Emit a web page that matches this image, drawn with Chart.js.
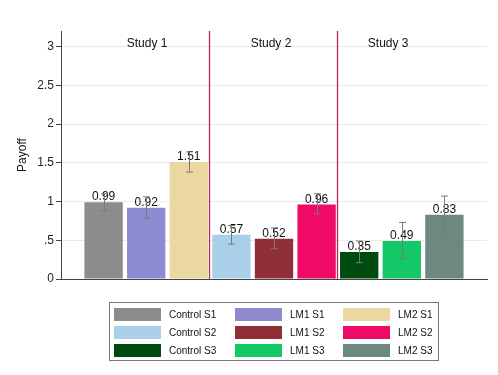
<!DOCTYPE html>
<html>
<head>
<meta charset="utf-8">
<script src="https://cdn.jsdelivr.net/npm/chart.js@4.4.0/dist/chart.umd.min.js"></script>
<style>
    body { margin: 0; background: #fff; }
    #wrap { width: 498px; height: 375px; position: relative; }
</style>
</head>
<body>
<div id="wrap"><canvas id="payoffChart"></canvas></div>
<script>
// data
const categories = ['Control S1', 'LM1 S1', 'LM2 S1', 'Control S2', 'LM1 S2', 'LM2 S2', 'Control S3', 'LM1 S3', 'LM2 S3'];
const barX = [1, 2, 3, 4, 5, 6, 7, 8, 9];
const means = [0.99, 0.92, 1.51, 0.57, 0.52, 0.96, 0.35, 0.49, 0.83];
const ciLow = [0.88, 0.78, 1.38, 0.45, 0.39, 0.84, 0.21, 0.26, 0.60];
const ciHigh = [1.10, 1.06, 1.64, 0.69, 0.66, 1.10, 0.49, 0.73, 1.07];
const barColors = ['#8c8c8c', '#8e8bd0', '#ebd7a0', '#a9d0e8', '#8f3036', '#ee0a66', '#004b10', '#14c868', '#6c8880'];

const yTickValues = [0, 0.5, 1, 1.5, 2, 2.5, 3];
const yTickLabels = ['0', '.5', '1', '1.5', '2', '2.5', '3'];

const studyLabels = ['Study 1', 'Study 2', 'Study 3'];
const studyLabelX = [2.02, 4.93, 7.68];
const dividerX = [3.47, 6.48];

const FONT = 'Liberation Sans, Arial, sans-serif';

// studies, value labels, error bars and the boxed legend
const extrasPlugin = {
    id: 'extras',
    afterDatasetsDraw(chart) {
        const ctx = chart.ctx;
        const xs = chart.scales.x;
        const ys = chart.scales.y;
        const area = chart.chartArea;
        ctx.save();

        // dividers
        ctx.strokeStyle = '#bc2a4c';
        ctx.lineWidth = 1.3;
        dividerX.forEach(v => {
            const px = Math.round(xs.getPixelForValue(v)) + 0.5;
            ctx.beginPath();
            ctx.moveTo(px, area.top);
            ctx.lineTo(px, area.bottom);
            ctx.stroke();
        });

        // study headings
        ctx.fillStyle = '#111';
        ctx.font = '12px ' + FONT;
        ctx.textAlign = 'center';
        ctx.textBaseline = 'middle';
        studyLabels.forEach((t, i) => {
            ctx.fillText(t, xs.getPixelForValue(studyLabelX[i]), 44);
        });

        // value labels
        const meta = chart.getDatasetMeta(0);
        ctx.font = '12px ' + FONT;
        ctx.textBaseline = 'alphabetic';
        meta.data.forEach((bar, i) => {
            ctx.fillText(means[i].toFixed(2), bar.x, bar.y - 2);
        });

        // error bars
        ctx.strokeStyle = '#7a7a7a';
        ctx.lineWidth = 1;
        meta.data.forEach((bar, i) => {
            const x = Math.round(bar.x) + 0.5;
            const yl = ys.getPixelForValue(ciLow[i]);
            const yh = ys.getPixelForValue(ciHigh[i]);
            ctx.beginPath();
            ctx.moveTo(x, yl);
            ctx.lineTo(x, yh);
            ctx.moveTo(x - 3.5, yl);
            ctx.lineTo(x + 3.5, yl);
            ctx.moveTo(x - 3.5, yh);
            ctx.lineTo(x + 3.5, yh);
            ctx.stroke();
        });

        // legend box, 3 columns
        ctx.strokeStyle = '#777';
        ctx.strokeRect(109.5, 302.5, 329, 58);
        const colX = [114, 235, 343];
        const rowY = [308, 326, 344];
        ctx.font = '10px ' + FONT;
        ctx.textAlign = 'left';
        ctx.textBaseline = 'middle';
        categories.forEach((c, i) => {
            const cx = colX[i % 3];
            const cy = rowY[Math.floor(i / 3)];
            ctx.fillStyle = barColors[i];
            ctx.fillRect(cx, cy, 47, 13);
            ctx.fillStyle = '#111';
            ctx.fillText(c, cx + 55, cy + 7);
        });

        ctx.restore();
    }
};

const ctx = document.getElementById('payoffChart');

new Chart(ctx, {
    type: 'bar',
    data: {
        datasets: [{
            label: 'Payoff',
            data: barX.map((x, i) => ({ x: x, y: means[i] })),
            backgroundColor: barColors,
            borderWidth: 0,
            barPercentage: 0.9,
            categoryPercentage: 1.0,
        }]
    },
    options: {
        responsive: true,
        maintainAspectRatio: false,
        animation: false,
        layout: {
            padding: { left: 0, right: 11, top: 31, bottom: 96 }
        },
        plugins: {
            legend: { display: false },
            tooltip: { enabled: false },
        },
        scales: {
            x: {
                type: 'linear',
                min: 0,
                max: 10,
                offset: false,
                grid: { display: false, drawTicks: false },
                border: { display: true, color: '#444', width: 1 },
                ticks: { display: false },
                afterFit: (s) => { s.height = 0; },
            },
            y: {
                min: 0,
                max: 3.2,
                afterBuildTicks: (s) => { s.ticks = yTickValues.map(v => ({ value: v })); },
                ticks: {
                    color: '#222',
                    padding: 2,
                    font: { family: FONT, size: 12 },
                    callback: (v) => yTickLabels[yTickValues.indexOf(v)],
                },
                grid: {
                    color: '#e6ecee',
                    tickColor: '#444',
                    tickLength: 5,
                },
                border: { display: true, color: '#444', width: 1 },
                title: {
                    display: true,
                    text: 'Payoff',
                    color: '#111',
                    font: { family: FONT, size: 12 },
                    padding: { top: 15, bottom: 0 },
                },
                afterFit: (s) => { s.width = 61; },
            }
        }
    },
    plugins: [extrasPlugin]
});
</script>
</body>
</html>
